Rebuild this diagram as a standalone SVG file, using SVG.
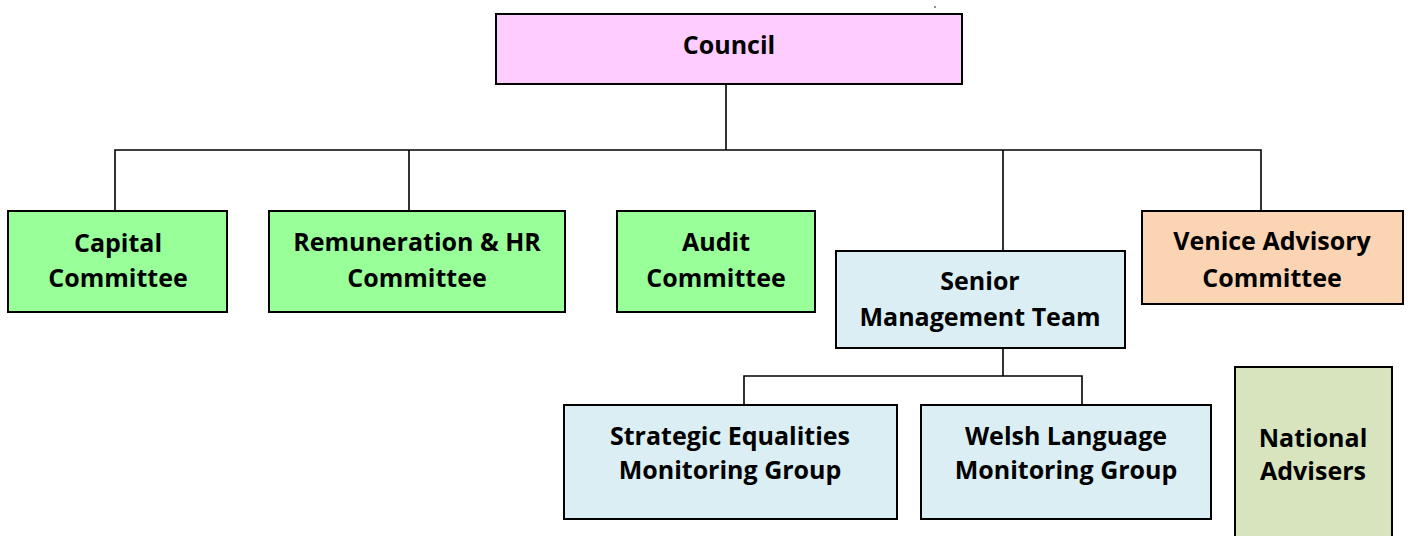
<svg xmlns="http://www.w3.org/2000/svg" width="1408" height="536" viewBox="0 0 1408 536">
<style>
.box{stroke:#000;stroke-width:2}
.t{font-family:"Open Sans","Noto Sans","DejaVu Sans",sans-serif;font-weight:bold;font-size:25px;fill:#000;text-anchor:middle}
.c{fill:none;stroke:#000;stroke-width:1.6}
</style>
<rect width="1408" height="536" fill="#fff"/>
<g id="connectors">
<path class="c" d="M726 84V150M115 211V150H1261V211M409 150V211M1003 150V251M1003 348V376M744 405V376H1082V405"/>
</g>
<g id="council"><rect class="box" x="496" y="14" width="466" height="70" fill="#FFCCFF"/><text class="t" x="729" y="54">Council</text></g>
<g id="capital"><rect class="box" x="8" y="211" width="219" height="101" fill="#99FF99"/><text class="t" x="118" y="252">Capital</text><text class="t" x="118" y="287">Committee</text></g>
<g id="remuneration"><rect class="box" x="269" y="211" width="296" height="101" fill="#99FF99"/><text class="t" x="417" y="251">Remuneration &amp; HR</text><text class="t" x="417" y="287">Committee</text></g>
<g id="audit"><rect class="box" x="617" y="211" width="198" height="101" fill="#99FF99"/><text class="t" x="716" y="251">Audit</text><text class="t" x="716" y="287">Committee</text></g>
<g id="smt"><rect class="box" x="836" y="251" width="289" height="97" fill="#DAEEF3"/><text class="t" x="980" y="290">Senior</text><text class="t" x="980" y="326">Management Team</text></g>
<g id="venice"><rect class="box" x="1142" y="211" width="261" height="93" fill="#FBD4B4"/><text class="t" x="1272" y="250">Venice Advisory</text><text class="t" x="1272" y="287">Committee</text></g>
<g id="strategic"><rect class="box" x="564" y="405" width="333" height="114" fill="#DAEEF3"/><text class="t" x="730" y="445">Strategic Equalities</text><text class="t" x="730" y="479">Monitoring Group</text></g>
<g id="welsh"><rect class="box" x="921" y="405" width="290" height="114" fill="#DAEEF3"/><text class="t" x="1066" y="445">Welsh Language</text><text class="t" x="1066" y="479">Monitoring Group</text></g>
<g id="national"><rect class="box" x="1235" y="367" width="157" height="180" fill="#D7E4BD"/><text class="t" x="1313" y="447">National</text><text class="t" x="1313" y="480">Advisers</text></g>
<circle cx="935" cy="7" r="0.8" fill="#000"/>
</svg>
